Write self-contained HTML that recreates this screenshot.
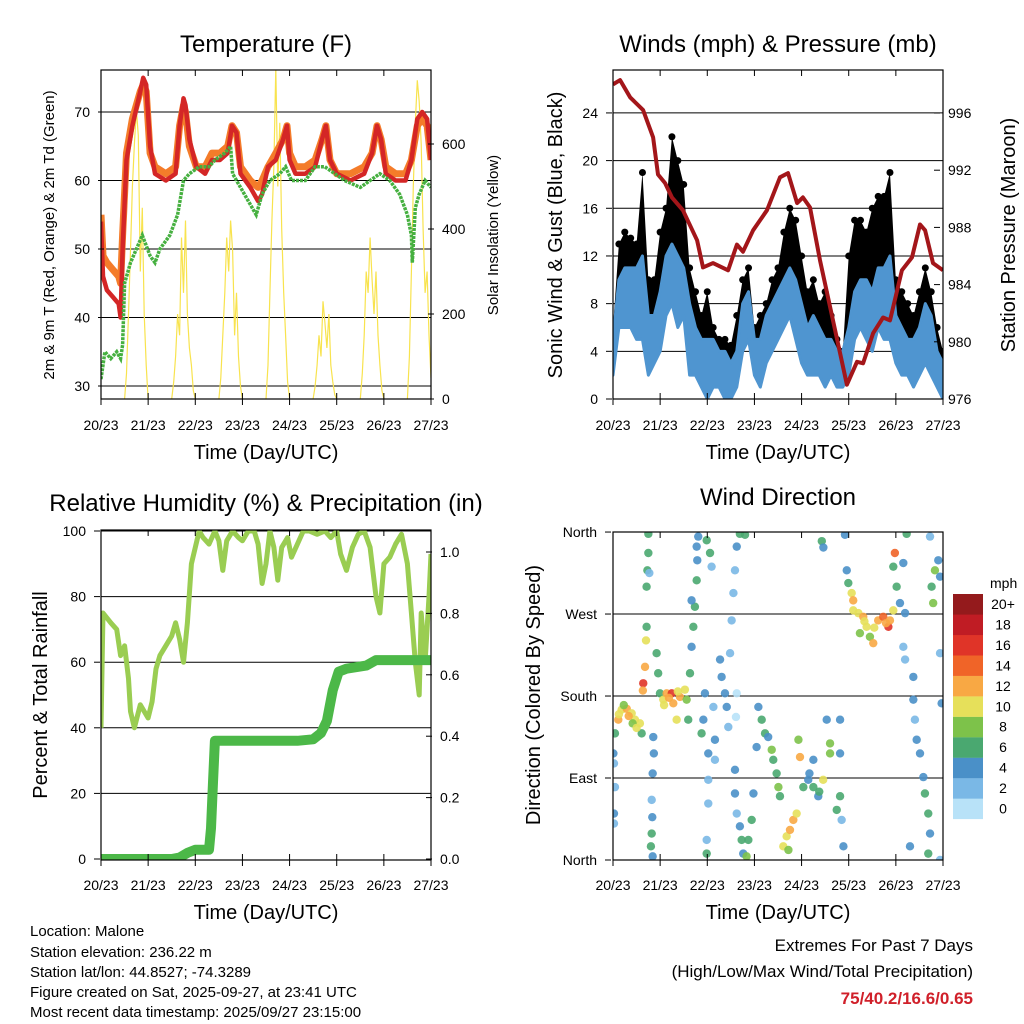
<!DOCTYPE html>
<html><head><meta charset="utf-8"><style>
html,body{margin:0;padding:0;background:#fff;}
svg{display:block;font-family:"Liberation Sans",sans-serif;}
</style></head><body>
<svg id="root" xmlns="http://www.w3.org/2000/svg" width="1024" height="1024" viewBox="0 0 1024 1024">
<defs>
<clipPath id="c1"><rect x="101" y="70" width="330" height="329"/></clipPath>
<clipPath id="c2"><rect x="613" y="70" width="330" height="329"/></clipPath>
<clipPath id="c3"><rect x="101" y="530" width="330" height="330"/></clipPath>
<clipPath id="c4"><rect x="613" y="532" width="330" height="328"/></clipPath>
</defs>
<rect x="0" y="0" width="1024" height="1024" fill="#fff"/>
<g font-size="24" text-anchor="middle" fill="#000">
<text x="266" y="52">Temperature (F)</text>
<text x="778" y="52">Winds (mph) &amp; Pressure (mb)</text>
<text x="266" y="511">Relative Humidity (%) &amp; Precipitation (in)</text>
<text x="778" y="505">Wind Direction</text>
</g>
<g font-size="20" text-anchor="middle">
<text x="266" y="459">Time (Day/UTC)</text>
<text x="778" y="459">Time (Day/UTC)</text>
<text x="266" y="919">Time (Day/UTC)</text>
<text x="778" y="919">Time (Day/UTC)</text>
<text transform="translate(562,235) rotate(-90)">Sonic Wind &amp; Gust (Blue, Black)</text>
<text transform="translate(1015,235) rotate(-90)">Station Pressure (Maroon)</text>
<text transform="translate(47,695) rotate(-90)">Percent &amp; Total Rainfall</text>
<text transform="translate(540,695) rotate(-90)">Direction (Colored By Speed)</text>
</g>
<g font-size="15" text-anchor="middle">
<text transform="translate(54,235) rotate(-90)">2m &amp; 9m T (Red, Orange) &amp; 2m Td (Green)</text>
<text transform="translate(498,235) rotate(-90)">Solar Insolation (Yellow)</text>
</g>
<g font-size="15">
<text x="30" y="936">Location: Malone</text>
<text x="30" y="957">Station elevation: 236.22 m</text>
<text x="30" y="977">Station lat/lon: 44.8527; -74.3289</text>
<text x="30" y="997">Figure created on Sat, 2025-09-27, at 23:41 UTC</text>
<text x="30" y="1017">Most recent data timestamp: 2025/09/27 23:15:00</text>
</g>
<g font-size="17" text-anchor="end">
<text x="973" y="951">Extremes For Past 7 Days</text>
<text x="973" y="977">(High/Low/Max Wind/Total Precipitation)</text>
<text x="973" y="1004" font-weight="bold" fill="#d0202a">75/40.2/16.6/0.65</text>
</g>
<text x="990" y="588" font-size="14">mph</text>
<g id="layer"></g>
</svg>
<script>
const dayLabels=["20/23","21/23","22/23","23/23","24/23","25/23","26/23","27/23"];
const tempTicks=[30,40,50,60,70];
const solarTicks=[0,200,400,600];
const windTicks=[0,4,8,12,16,20,24];
const presTicks=[976,980,984,988,992,996];
const rhTicks=[0,20,40,60,80,100];
const precTicks=[0.0,0.2,0.4,0.6,0.8,1.0];
const dirTicks=[0,90,180,270,360];
const dirNames=["North","East","South","West","North"];
// temperature
const tHours=[0,1,3,6,9,10,11,13,16,20,21.5,23,25,27.5,33,38,40,42,43,45,48.5,53,56.5,60.5,64.5,66.7,69,71,76,80,82,85,89,92.7,94.7,96,99,104,109,112.5,114.5,116.6,120,127,134,138,140.5,142.6,145,150,155,158,161,163.5,166,168];
const temp2m=[54,46,44,43,42,40,50,63,68,73,75,74,65,61,60,61,68,72,71,66,62,61,63,63,64,68,67,61,59,57,58,62,63,66,68,63,61,61,62,66,68,63,61,60,61,64,68,66,61,60,60,63,69,70,69,63];
const temp9m=[55,49,48,47,46,45,52,64,69,73,74,73,64,62,61,62,68,71,70,65,62,62,64,64,65,68,67,62,60,59,60,62,64,66,68,64,62,62,63,66,68,63,61,61,62,64,68,66,62,61,61,63,68,69,68,63];
const tdHours=[0,2,5,8,10,11,12,15,21,25,27.5,30,35,39,42,45,50,55,58,63,66,67,71,79,82,86,91,94,97,104,109,114,119,124,132,137,142,147,152,156,158,158.5,160,162,165,168];
const dewpoint=[31,35,34,35,34,36,45,48,52,49,48,50,52,55,60,61,62,62,63,64,65,61,59,55,58,60,61,62,60,60,62,62,61,60,59,60,61,60,58,55,52,48,56,58,60,59];
const solarDay0=[0,60,200,350,500,600,680,620,300,450,200,80,0];
const solarDay1=[0,40,100,200,150,380,250,420,200,120,80,20,0];
const solarDay2=[0,50,150,250,380,300,420,350,150,250,100,30,0];
const solarDay3=[0,80,250,420,550,780,500,650,400,250,150,40,0];
const solarDay4=[0,30,80,150,100,230,180,120,200,80,40,10,0];
const solarDay5=[0,60,150,300,250,380,280,200,300,150,80,20,0];
const solarDay6=[0,100,300,500,650,750,700,600,400,250,300,150,50];
// winds
const windHours=[0,3,6,9,12,15,18,21,24,27,30,33,36,39,42,45,48,51,54,57,60,63,66,69,72,75,78,81,84,87,90,93,96,99,102,105,108,111,114,117,120,123,126,129,132,135,138,141,144,147,150,153,156,159,162,165,168];
const windLow=[2,6,6,6,5,5,2,3,4,7,8,6,7,2,2,1,0,1,1,0,0,1,4,5,2,1,3,4,5,6,7,5,3,2,2,2,1,2,1,1,2,5,6,5,4,6,5,5,3,2,2,1,2,3,2,1,0];
const windHigh=[5,10,11,11,11,12,7,7,9,12,13,12,11,8,6,5,5,5,4,4,3,4,8,9,5,5,7,8,9,10,11,10,8,6,7,6,5,5,4,4,6,9,10,10,9,11,11,12,7,6,5,5,6,8,7,4,3];
const windGust=[6,13,14,13.5,13,19,10,10,14,16,22,20,18,11,9,7,9,6,5,5,4.5,7,10,11,6,7,8,10,11,14,16,15,12,9,10,8,9,7,5,4,12,15,15,14,16,17,17,19,10,9,8,7,9,11,9,6,4];
const presHours=[0,3.6,8.7,15.3,20.4,22.9,26.5,30,35.6,42.8,45.8,50.9,58.6,63.1,66.2,71.3,78.4,85,89.1,93.7,96.7,100.3,105.4,112,119.1,124.2,127.3,132.4,137.5,141,147.1,152.2,156.3,158.9,162.9,168];
const pressure=[998,998.3,997.1,996.2,994.3,991.7,991.1,990.1,989.2,987.1,985.2,985.5,985,986.8,986.3,987.8,989.2,991.5,991.8,989.7,990.1,989.4,985.7,981.5,977,978.6,978.5,980.6,981.7,981.5,985,985.9,988.2,987.8,985.5,985];
// humidity & precip
const rhHours=[0,1,5,8,10,12,14,15,17,20,22,24,26,28,30,33,36,38,40,42,44,46,48,50,52,55,58,60,62,64,67,70,72,75,78,80,82,84,86,88,90,92,95,97,100,103,106,110,114,117,120,122,125,128,131,134,137,140,142,144,147,150,153,156,158,160,162,163,165,167,168];
const rhVals=[40,75,72,70,62,65,55,45,40,47,45,43,48,58,62,65,68,72,67,60,72,90,95,100,98,96,100,97,88,97,100,98,97,100,100,96,84,90,100,95,85,95,98,92,96,100,100,99,100,98,100,93,88,95,99,100,95,80,75,90,92,96,99,90,75,60,50,75,60,80,93];
const prHours=[0,36,40,44,48,55,56,57,58,100,108,112,115,118,121,125,135,140,168];
const prVals=[0,0,0.005,0.02,0.03,0.03,0.1,0.25,0.385,0.385,0.39,0.41,0.45,0.55,0.61,0.62,0.63,0.648,0.648];
// wind direction
const wdHours=[1,2.7,4.4,7,9.5,11.2,13.7,14.6,0.2,0.5,0.5,0.5,1,3,5.5,8,10,12,17.1,16.8,16.3,15.4,15.2,18,18,17.5,17.1,18.5,20.5,20.8,20.2,19.7,20,19.7,19.3,20.2,22.2,23,23.9,25.6,27.3,29.9,30.7,32.4,34.1,36.6,37.5,38.3,28.5,26,33,43.4,42.9,42.6,41.7,40.9,40,39.2,42.6,40,45.1,46.8,46,48.5,48.5,48.5,47.7,47.7,51.1,51.9,51.9,47.7,49.4,50.2,54.5,55.3,57,57.9,58.7,59.6,60.4,61.3,62.1,63,64.6,67.2,63,62.6,62.1,62.1,63,64.6,65.5,66.3,68,68.9,70.6,71.5,74,75.7,77.4,79,80.8,81.6,83.3,84.2,85,73.1,86.7,88.4,90.1,91.8,93.5,89.3,96.9,99.4,102,104.5,107,110.5,110.5,94.4,95.2,102,108.8,100,105,115.6,115.6,116.4,117.3,113.9,115.6,118.1,119,119.8,121.5,122.3,124.9,127.4,129.1,130.8,132.5,135,137.6,140.2,141,142.7,125.7,122.3,133,128,139,142.7,144.4,146.1,147.8,149.5,143.5,148.7,106.3,107.1,147.8,148.7,152.9,152.9,153.7,154.6,156.3,158,158.8,160.5,161.4,160.5,151.2,162.2,163,163.9,165.6,166.5,166.5,167.3,161.4,166.5];
const wdDir=[139,154,165,166,161,154,150,139,117,106,51,40,80,160,170,158,150,145,256,241,212,194,186,358,337,318,300,315,135,117,95,66,47,29,15,4,227,205,183,176,183,183,172,154,179,187,176,154,178,170,185,355,329,307,278,256,234,205,344,285,139,183,154,117,88,62,22,7,168,132,110,351,337,322,220,201,183,168,146,227,263,293,318,344,358,357,183,157,99,73,51,37,22,7,4,22,44,73,168,154,139,135,121,110,95,80,70,124,15,26,33,44,51,11,80,88,80,70,88,117,128,132,113,110,154,95,75,154,117,44,15,55,70,357,318,304,293,285,271,267,256,245,238,263,267,256,263,274,249,274,255,262,260,322,300,282,326,358,337,271,350,343,234,220,201,176,154,132,117,91,73,51,29,7,15,300,282,318,329,311,227,172,355,0];
const wdSpeed=[6,12,10,12,10,10,10,7,4,3,4,3,3,11,9,13,8,10,7,10,12,16,12,6,7,6,7,3,4,4,4,3,4,6,6,4,6,6,7,10,12,16,12,10,12,10,8,6,13,11,10,4,4,6,6,6,4,6,4,4,6,4,4,4,2,2,2,6,2,4,2,7,6,2,4,4,4,4,2,2,2,2,2,4,6,7,1,1,4,4,2,4,6,4,8,6,6,4,4,6,6,4,8,6,6,8,6,4,10,10,12,12,11,8,6,4,6,4,10,8,8,9,12,4,4,5,7,4,4,2,4,6,6,4,4,6,10,12,10,12,10,8,12,12,14,16,12,10,8,10,11,11,13,6,6,4,4,6,14,4,6,4,2,2,4,4,2,4,4,4,6,6,4,6,4,6,8,8,4,4,2,4,2,2];
const speedColors=["#b8e2f8","#7ab8e6","#4a90c8","#4aa870","#7dc24a","#e6e05a","#f8a844","#f06428","#e03428","#c01c24","#941a1c"];
const speedLabels=["0","2","4","6","8","10","12","14","16","18","20+"];

const NS="http://www.w3.org/2000/svg";
const layer=document.getElementById('layer');
function mk(tag,attrs,parent){const e=document.createElementNS(NS,tag);for(const k in attrs)e.setAttribute(k,attrs[k]);(parent||layer).appendChild(e);return e;}
const xL=h=>101+h*330/168, xR=h=>613+h*330/168;
const yT=t=>386-(t-30)*6.85, yS=s=>399-s*0.425;
const yW=v=>399-v*11.92, yP=p=>399-(p-976)*14.3;
const yR=v=>859-v*3.28, yPr=v=>859-v*307;
const yD=d=>860-d*0.911;
function pathOf(hs,vs,fx,fy){return hs.map((h,i)=>(i?'L':'M')+fx(h).toFixed(1)+' '+fy(vs[i]).toFixed(1)).join(' ');}

function grid(x0,vals,fy,name){vals.forEach(v=>{const l=mk('line',{x1:x0,x2:x0+330,y1:fy(v),y2:fy(v),stroke:'#000','stroke-width':1});

});}
grid(101,tempTicks,yT,'temp-gridline');
grid(613,windTicks.slice(1),yW,'wind-gridline');
grid(101,rhTicks.slice(1),yR,'rh-gridline');
grid(613,dirTicks,yD,'direction-gridline');

// panel 1
let g1=mk('g',{'clip-path':'url(#c1)'});


[solarDay0,solarDay1,solarDay2,solarDay3,solarDay4,solarDay5,solarDay6].forEach((arr,d)=>{
 const hs=arr.map((v,i)=>d*24+12+i);
 const p=mk('path',{d:pathOf(hs,arr,xL,yS),fill:'none',stroke:'#f8e34e','stroke-width':1.2},g1);
 
 
});
let e=mk('path',{d:pathOf(tHours,temp9m,xL,yT),fill:'none',stroke:'#f47c2a','stroke-width':7,'stroke-linejoin':'round'},g1);


e=mk('path',{d:pathOf(tHours,temp2m,xL,yT),fill:'none',stroke:'#d42626','stroke-width':4.5,'stroke-linejoin':'round'},g1);


e=mk('path',{d:pathOf(tdHours,dewpoint,xL,yT),fill:'none',stroke:'#46b040','stroke-width':3.5,'stroke-dasharray':'3 1'},g1);



// panel 2
let g2=mk('g',{'clip-path':'url(#c2)'});


const gustPoly=windHours.map((h,i)=>xR(h)+','+yW(windGust[i])).concat(windHours.slice().reverse().map((h,j)=>{const i=windHours.length-1-j;return xR(h)+','+yW(windHigh[i]);})).join(' ');
e=mk('polygon',{points:gustPoly,fill:'#000'},g2);


windHours.forEach((h,i)=>{const c=mk('circle',{cx:xR(h),cy:yW(windGust[i]),r:3.5,fill:'#000'},g2);

});
const windPoly=windHours.map((h,i)=>xR(h)+','+yW(windHigh[i])).concat(windHours.slice().reverse().map((h,j)=>{const i=windHours.length-1-j;return xR(h)+','+yW(windLow[i]);})).join(' ');
e=mk('polygon',{points:windPoly,fill:'#4f95d0',stroke:'#4f95d0','stroke-width':3,'stroke-linejoin':'round'},g2);


e=mk('path',{d:pathOf(presHours,pressure,xR,yP),fill:'none',stroke:'#a3161a','stroke-width':4,'stroke-linejoin':'round'},g2);



// panel 3
let g3=mk('g',{'clip-path':'url(#c3)'});


e=mk('path',{d:pathOf(rhHours,rhVals,xL,yR),fill:'none',stroke:'#9acd52','stroke-width':5,'stroke-linejoin':'round'},g3);


e=mk('path',{d:pathOf(prHours,prVals,xL,yPr),fill:'none',stroke:'#4cb848','stroke-width':10,'stroke-linejoin':'round'},g3);



// panel 4
let g4=mk('g',{'clip-path':'url(#c4)'});


wdHours.forEach((h,i)=>{const b=Math.min(10,Math.floor(wdSpeed[i]/2));
 const c=mk('circle',{cx:xR(h),cy:yD(wdDir[i]),r:4.2,fill:speedColors[b],'fill-opacity':0.9},g4);
 
 });

// frames, ticks, labels
function frame(x,y,w,h,name){const r=mk('rect',{x:x,y:y,width:w,height:h,fill:'none',stroke:'#000','stroke-width':1.2});

}
frame(101,70,330,329,'temperature-frame');frame(613,70,330,329,'winds-frame');
frame(101,530,330,330,'humidity-frame');frame(613,532,330,328,'direction-frame');
function xaxis(fx,yTop,yBot,labY,name){dayLabels.forEach((lab,i)=>{const x=fx(i*24);
 const t1=mk('line',{x1:x,x2:x,y1:yBot-6,y2:yBot+6,stroke:'#000'});
 
 
 const t2=mk('line',{x1:x,x2:x,y1:yTop,y2:yTop+6,stroke:'#000'});
 
 
 const t=mk('text',{x:x,y:labY,'font-size':14,'text-anchor':'middle'});t.textContent=lab;
 
 });}
xaxis(xL,70,399,430,'temp-x');xaxis(xR,70,399,430,'wind-x');xaxis(xL,530,860,890,'rh-x');xaxis(xR,532,860,890,'dir-x');
function yaxis(vals,fy,x,anchor,fmt,name,tickDir){vals.forEach(v=>{const y=fy(v);
 const tk=mk('line',{x1:x+(anchor==='end'?8:-8),x2:x+(anchor==='end'?8:-8)+tickDir*6,y1:y,y2:y,stroke:'#000'});
 
 
 const t=mk('text',{x:x,y:y+5,'font-size':14,'text-anchor':anchor});t.textContent=fmt(v);
 
 });}
yaxis(tempTicks,yT,90,'end',v=>v,'temp-y',1);
yaxis(solarTicks,yS,442,'start',v=>v,'solar-y',-1);
yaxis(windTicks,yW,598,'end',v=>v,'wind-y',1);
yaxis(presTicks,yP,948,'start',v=>v,'pressure-y',-1);
yaxis(rhTicks,yR,86,'end',v=>v,'rh-y',1);
yaxis(precTicks,v=>Math.max(yPr(v),0),440,'start',v=>v.toFixed(1),'precip-y',-1);
yaxis(dirTicks,yD,597,'end',(v)=>dirNames[dirTicks.indexOf(v)],'direction-y',1);

// colorbar
speedColors.forEach((c,i)=>{const y=594+(10-i)*20.45;
 const r=mk('rect',{x:953,y:y,width:30,height:20.6,fill:c});
 
 
 const t=mk('text',{x:1003,y:y+15,'font-size':14,'text-anchor':'middle'});t.textContent=speedLabels[i];
 
 });
</script>
</body></html>
